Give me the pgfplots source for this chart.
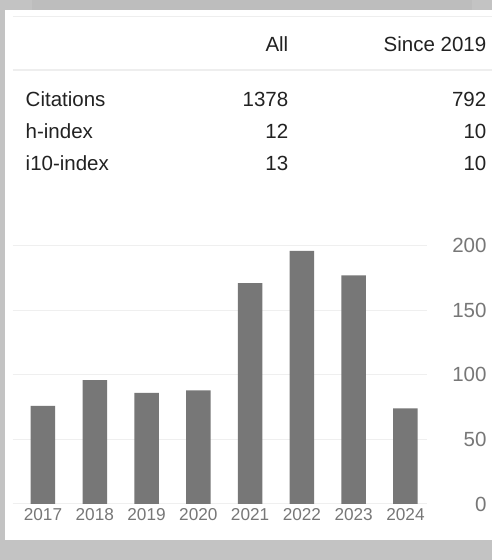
\documentclass[border=0pt]{standalone}
\usepackage{pgfplots}
\pgfplotsset{compat=1.18}
\usepackage{fontspec}
\setmainfont{Liberation Sans}
\definecolor{bgA}{HTML}{C3C3C3}
\definecolor{bgB}{HTML}{BDBDBD}
\definecolor{linecol}{HTML}{EEEEEE}
\definecolor{gridcol}{HTML}{EFEFEF}
\definecolor{barcol}{HTML}{777777}
\definecolor{txt}{HTML}{222222}
\definecolor{ticktxt}{HTML}{777777}
\begin{document}
\begin{tikzpicture}[x=1pt,y=1pt]
\useasboundingbox (0,0) rectangle (492,560);
\fill[bgA] (0,0) rectangle (492,560);
\fill[bgB] (32,550) rectangle (472,560);
\fill[white] (5,20) rectangle (492,550);
\draw[linecol, line width=1.5pt] (12.7,543.5) -- (492,543.5);
\draw[linecol, line width=1.5pt] (12.7,490) -- (492,490);
\begin{scope}[every node/.style={inner sep=0pt, text=txt, font=\fontsize{20.5}{24}\selectfont}]
\node[anchor=base east] at (288.5,508.3) {All};
\node[anchor=base east] at (486.5,508.3) {Since 2019};
\node[anchor=base west] at (25.5,453.3) {Citations};
\node[anchor=base west] at (25.5,421.7) {h-index};
\node[anchor=base west] at (25.5,389.3) {i10-index};
\node[anchor=base east] at (288.5,453.3) {1378};
\node[anchor=base east] at (288.5,421.7) {12};
\node[anchor=base east] at (288.5,389.3) {13};
\node[anchor=base east] at (486.5,453.3) {792};
\node[anchor=base east] at (486.5,421.7) {10};
\node[anchor=base east] at (486.5,389.3) {10};
\end{scope}
\begin{axis}[
  at={(12.7pt,56pt)}, anchor=south west,
  scale only axis, width=414pt, height=258.3pt,
  xmin=-0.585, xmax=7.41, ymin=0, ymax=200,
  axis line style={draw=none},
  major tick length=0pt,
  ymajorgrids, grid style={draw=gridcol, line width=1pt},
  ytick={0,50,100,150,200},
  xtick={0,1,2,3,4,5,6,7},
  xticklabels={2017,2018,2019,2020,2021,2022,2023,2024},
  /pgf/number format/assume math mode=true,
  yticklabel pos=right,
  yticklabel style={anchor=east, inner sep=0pt, xshift=60pt, text=ticktxt, font=\fontsize{20.5}{24}\selectfont},
  xticklabel style={anchor=north, inner sep=0pt, yshift=-4.5pt, text=ticktxt, font=\fontsize{17.2}{20}\selectfont},
  clip=false,
]
\addplot[ybar, bar width=24.5pt, fill=barcol, draw=none] coordinates {
  (0,76) (1,96) (2,86) (3,88) (4,171) (5,196) (6,177) (7,74)
};
\end{axis}
\end{tikzpicture}
\end{document}
